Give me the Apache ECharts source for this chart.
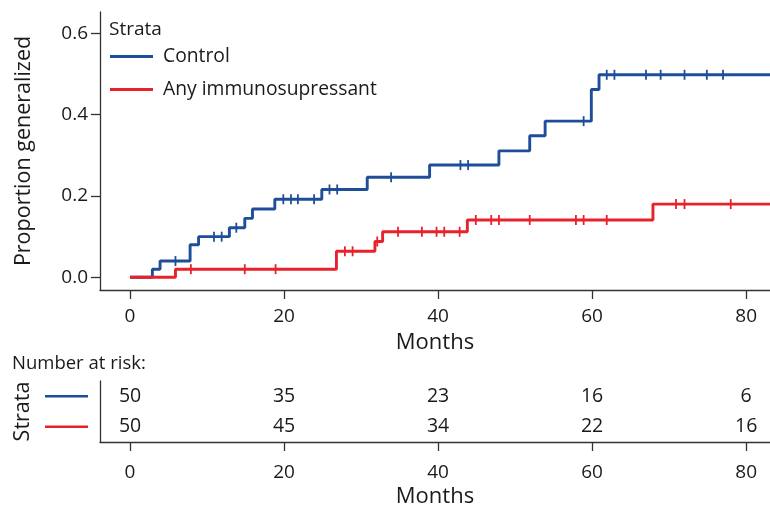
<!DOCTYPE html>
<html>
<head>
<meta charset="utf-8">
<script src="https://cdn.jsdelivr.net/npm/echarts@6/dist/echarts.min.js"></script>
<style>
html,body{margin:0;padding:0;background:#fff;}
#main{width:770px;height:509px;}
</style>
</head>
<body>
<div id="main"></div>
<script>
// ---- Data ----
const monthTicks = [0, 20, 40, 60, 80];
const propTicks = [0, 0.2, 0.4, 0.6];

const strataNames = ['Control', 'Any immunosupressant'];

// Control: event times (months) and cumulative proportion generalized after each
const controlTimes = [0, 2.9, 3.9, 7.8, 8.9, 12.9, 14.9, 15.9, 18.8, 24.9, 30.8, 38.9, 47.9, 51.9, 53.9, 59.9, 60.9];
const controlProp  = [0, 0.020, 0.040, 0.080, 0.100, 0.122, 0.145, 0.168, 0.192, 0.216, 0.246, 0.276, 0.311, 0.348, 0.384, 0.462, 0.498];
const controlCensor = [5.9, 10.9, 11.9, 13.8, 19.9, 20.9, 21.8, 23.9, 25.9, 26.9, 33.9, 42.9, 43.9, 58.9, 61.9, 62.9, 67.0, 68.9, 72.0, 74.9, 77.0];

// Any immunosupressant
const immunoTimes = [0, 5.9, 26.8, 31.8, 32.8, 43.8, 67.9];
const immunoProp  = [0, 0.020, 0.064, 0.088, 0.112, 0.141, 0.180];
const immunoCensor = [7.9, 14.9, 18.9, 27.9, 28.9, 32.1, 34.8, 37.9, 39.8, 40.8, 42.8, 44.9, 46.9, 47.9, 51.9, 57.9, 58.9, 61.9, 70.9, 72.0, 78.0];

// Number at risk at monthTicks
const controlRisk = [50, 35, 23, 16, 6];
const immunoRisk  = [50, 45, 34, 22, 16];

// ---- Styling ----
const BLUE = '#1F4E98';
const RED = '#E8222B';
const TXT = '#1a1a1a';
const AX = '#333333';
const FONT = "'Open Sans', 'Noto Sans', sans-serif";
const X_MIN = -3.9, X_MAX = 83.1;

function stepData(times, props) {
  const d = times.map((t, i) => [t, props[i]]);
  d.push([X_MAX, props[props.length - 1]]);
  return d;
}
function valueAt(times, props, t) {
  let v = props[0];
  for (let i = 0; i < times.length; i++) { if (times[i] <= t) v = props[i]; }
  return v;
}
function censorData(cens, times, props) {
  return cens.map(t => [t, valueAt(times, props, t)]);
}

const chart = echarts.init(document.getElementById('main'), null, {renderer: 'canvas'});

const axisLineStyle = {color: AX, width: 1.3};

const option = {
  animation: false,
  backgroundColor: '#fff',
  textStyle: {fontFamily: FONT, color: TXT},
  title: [
    {text: 'Strata', left: 109, top: 20, padding: 0,
     textStyle: {fontFamily: FONT, fontSize: 19, fontWeight: 'normal', color: TXT}},
    {text: 'Number at risk:', left: 12, top: 354, padding: 0,
     textStyle: {fontFamily: FONT, fontSize: 18.5, fontWeight: 'normal', color: TXT}}
  ],
  legend: {
    data: strataNames,
    orient: 'vertical',
    left: 110, top: 47,
    padding: 0,
    itemGap: 14,
    itemWidth: 43, itemHeight: 3,
    icon: 'rect',
    textStyle: {fontFamily: FONT, fontSize: 19.3, color: TXT, padding: [0, 0, 0, 5]},
    selectedMode: false
  },
  grid: [
    {left: 100, right: 0, top: 12, height: 278, containLabel: false},
    {left: 100, right: 0, top: 381, height: 65, containLabel: false}
  ],
  xAxis: [
    {gridIndex: 0, type: 'value', min: X_MIN, max: X_MAX,
     name: 'Months', nameLocation: 'middle', nameGap: 42,
     nameTextStyle: {fontFamily: FONT, fontSize: 22, color: TXT},
     axisLine: {show: true, onZero: false, lineStyle: axisLineStyle},
     axisTick: {show: true, length: 9, customValues: monthTicks, lineStyle: axisLineStyle},
     axisLabel: {customValues: monthTicks, margin: 17, fontFamily: FONT, fontSize: 19, color: TXT},
     splitLine: {show: false}},
    {gridIndex: 1, type: 'value', min: X_MIN, max: X_MAX,
     name: 'Months', nameLocation: 'middle', nameGap: 44,
     nameTextStyle: {fontFamily: FONT, fontSize: 22, color: TXT},
     axisLine: {show: true, onZero: false, lineStyle: axisLineStyle},
     axisTick: {show: true, length: 9, customValues: monthTicks, lineStyle: axisLineStyle},
     axisLabel: {customValues: monthTicks, margin: 21, fontFamily: FONT, fontSize: 19, color: TXT},
     splitLine: {show: false}},
  ],
  yAxis: [
    {gridIndex: 0, type: 'value', min: -0.0312, max: 0.6524,
     name: 'Proportion generalized', nameLocation: 'middle', nameGap: 65,
     nameTextStyle: {fontFamily: FONT, fontSize: 21.5, color: TXT},
     axisLine: {show: true, onZero: false, lineStyle: axisLineStyle},
     axisTick: {show: true, length: 9, customValues: propTicks, lineStyle: axisLineStyle},
     axisLabel: {customValues: propTicks, margin: 12, fontFamily: FONT, fontSize: 19, color: TXT,
                 formatter: v => v.toFixed(1)},
     splitLine: {show: false}},
    {gridIndex: 1, type: 'category', data: [strataNames[1], strataNames[0]],
     name: 'Strata', nameLocation: 'middle', nameGap: 63,
     nameTextStyle: {fontFamily: FONT, fontSize: 21.5, color: TXT},
     axisLine: {show: true, onZero: false, lineStyle: axisLineStyle},
     axisTick: {show: false},
     axisLabel: {margin: 12,
       formatter: v => v === strataNames[0] ? '{b|}' : '{r|}',
       rich: {
         b: {width: 43, height: 2.5, backgroundColor: BLUE},
         r: {width: 43, height: 2.5, backgroundColor: RED}
       }},
     splitLine: {show: false}}
  ],
  series: [
    {name: strataNames[0], type: 'line', xAxisIndex: 0, yAxisIndex: 0, step: 'end',
     data: stepData(controlTimes, controlProp), showSymbol: false, symbol: 'none',
     lineStyle: {color: BLUE, width: 2.9}, itemStyle: {color: BLUE}, clip: true, z: 3},
    {name: strataNames[1], type: 'line', xAxisIndex: 0, yAxisIndex: 0, step: 'end',
     data: stepData(immunoTimes, immunoProp), showSymbol: false, symbol: 'none',
     lineStyle: {color: RED, width: 2.9}, itemStyle: {color: RED}, clip: true, z: 3},
    {name: 'controlCensor', type: 'scatter', xAxisIndex: 0, yAxisIndex: 0,
     data: censorData(controlCensor, controlTimes, controlProp),
     symbol: 'rect', symbolSize: [1.8, 10], itemStyle: {color: BLUE, opacity: 1}, z: 4},
    {name: 'immunoCensor', type: 'scatter', xAxisIndex: 0, yAxisIndex: 0,
     data: censorData(immunoCensor, immunoTimes, immunoProp),
     symbol: 'rect', symbolSize: [1.8, 10], itemStyle: {color: RED, opacity: 1}, z: 4},
    {name: 'risk', type: 'scatter', xAxisIndex: 1, yAxisIndex: 1,
     data: monthTicks.map((m, i) => [m, strataNames[0], controlRisk[i]])
       .concat(monthTicks.map((m, i) => [m, strataNames[1], immunoRisk[i]])),
     symbolSize: 2, itemStyle: {color: 'rgba(0,0,0,0)', opacity: 1},
     label: {show: true, position: 'inside', formatter: p => String(p.value[2]),
             fontFamily: FONT, fontSize: 19.5, color: TXT, opacity: 1}}
  ]
};
chart.setOption(option);
</script>
</body>
</html>
